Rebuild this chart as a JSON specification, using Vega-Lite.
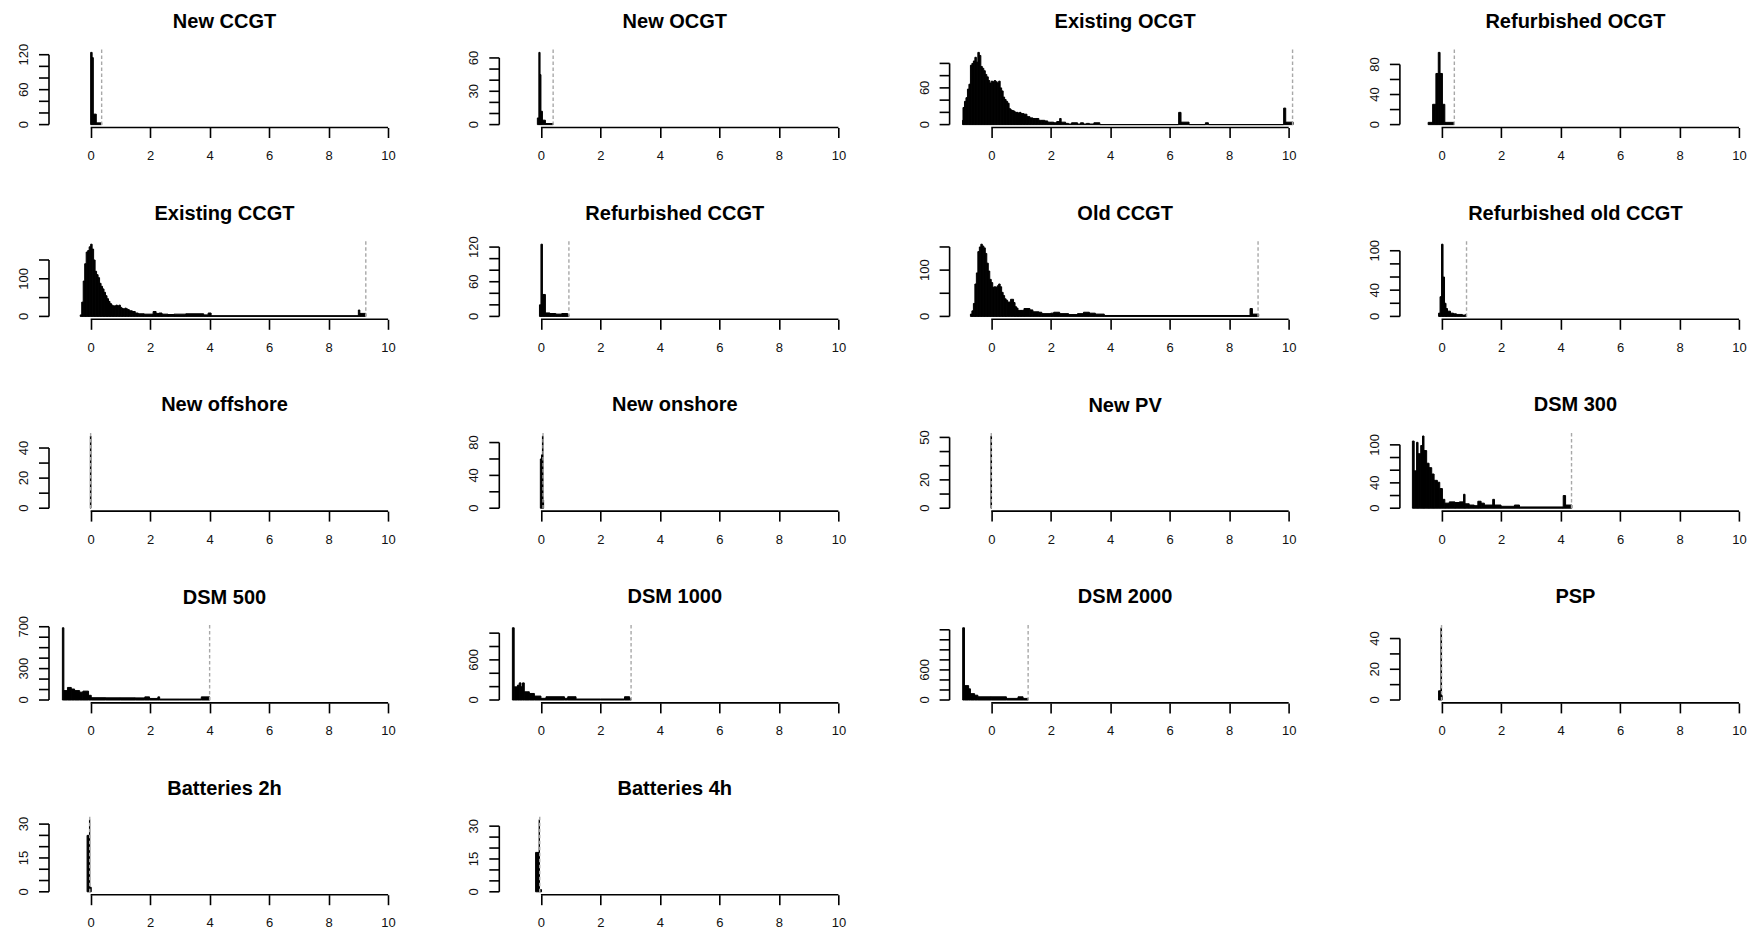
{
"$schema": "https://vega.github.io/schema/vega-lite/v6.json",
"background": "white",
"padding": {"left": 17, "top": 11.5, "right": 0, "bottom": 0},
"columns": 4,
"bounds": "flush",
"spacing": {"row": 113.8, "column": 99.3},
"config": {
 "view": {"stroke": null},
 "font": "Liberation Sans",
 "axis": {"domain": false, "grid": false, "tickSize": 10, "tickWidth": 1.6, "tickColor": "#000", "labelFont": "Liberation Sans", "labelFontSize": 13, "labelColor": "#111", "labelFlush": false},
 "axisX": {"labelPadding": 12, "labelAngle": 0},
 "title": {"font": "Liberation Sans", "fontSize": 20, "fontWeight": "bold", "color": "#000", "anchor": "middle", "frame": "group", "baseline": "alphabetic", "offset": 17.1},
 "rect": {"fill": "#000", "stroke": "#000", "strokeWidth": 1},
 "rule": {"stroke": "#000", "strokeWidth": 1.6},
 "text": {"font": "Liberation Sans", "fontSize": 13, "fill": "#111", "angle": 270, "align": "center", "baseline": "bottom"}
},
"datasets": {
 "yl": [
  {"p": "New CCGT", "t": 0}, {"p": "New CCGT", "t": 60}, {"p": "New CCGT", "t": 120},
  {"p": "New OCGT", "t": 0}, {"p": "New OCGT", "t": 30}, {"p": "New OCGT", "t": 60},
  {"p": "Existing OCGT", "t": 0}, {"p": "Existing OCGT", "t": 60},
  {"p": "Refurbished OCGT", "t": 0}, {"p": "Refurbished OCGT", "t": 40}, {"p": "Refurbished OCGT", "t": 80},
  {"p": "Existing CCGT", "t": 0}, {"p": "Existing CCGT", "t": 100},
  {"p": "Refurbished CCGT", "t": 0}, {"p": "Refurbished CCGT", "t": 60}, {"p": "Refurbished CCGT", "t": 120},
  {"p": "Old CCGT", "t": 0}, {"p": "Old CCGT", "t": 100},
  {"p": "Refurbished old CCGT", "t": 0}, {"p": "Refurbished old CCGT", "t": 40}, {"p": "Refurbished old CCGT", "t": 100},
  {"p": "New offshore", "t": 0}, {"p": "New offshore", "t": 20}, {"p": "New offshore", "t": 40},
  {"p": "New onshore", "t": 0}, {"p": "New onshore", "t": 40}, {"p": "New onshore", "t": 80},
  {"p": "New PV", "t": 0}, {"p": "New PV", "t": 20}, {"p": "New PV", "t": 50},
  {"p": "DSM 300", "t": 0}, {"p": "DSM 300", "t": 40}, {"p": "DSM 300", "t": 100},
  {"p": "DSM 500", "t": 0}, {"p": "DSM 500", "t": 300}, {"p": "DSM 500", "t": 700},
  {"p": "DSM 1000", "t": 0}, {"p": "DSM 1000", "t": 600},
  {"p": "DSM 2000", "t": 0}, {"p": "DSM 2000", "t": 600},
  {"p": "PSP", "t": 0}, {"p": "PSP", "t": 20}, {"p": "PSP", "t": 40},
  {"p": "Batteries 2h", "t": 0}, {"p": "Batteries 2h", "t": 15}, {"p": "Batteries 2h", "t": 30},
  {"p": "Batteries 4h", "t": 0}, {"p": "Batteries 4h", "t": 15}, {"p": "Batteries 4h", "t": 30}
 ],
 "yt": [
  {"p": "New CCGT", "t": 0}, {"p": "New CCGT", "t": 20}, {"p": "New CCGT", "t": 40}, {"p": "New CCGT", "t": 60}, {"p": "New CCGT", "t": 80}, {"p": "New CCGT", "t": 100}, {"p": "New CCGT", "t": 120},
  {"p": "New OCGT", "t": 0}, {"p": "New OCGT", "t": 10}, {"p": "New OCGT", "t": 20}, {"p": "New OCGT", "t": 30}, {"p": "New OCGT", "t": 40}, {"p": "New OCGT", "t": 50}, {"p": "New OCGT", "t": 60},
  {"p": "Existing OCGT", "t": 0}, {"p": "Existing OCGT", "t": 20}, {"p": "Existing OCGT", "t": 40}, {"p": "Existing OCGT", "t": 60}, {"p": "Existing OCGT", "t": 80}, {"p": "Existing OCGT", "t": 100},
  {"p": "Refurbished OCGT", "t": 0}, {"p": "Refurbished OCGT", "t": 20}, {"p": "Refurbished OCGT", "t": 40}, {"p": "Refurbished OCGT", "t": 60}, {"p": "Refurbished OCGT", "t": 80},
  {"p": "Existing CCGT", "t": 0}, {"p": "Existing CCGT", "t": 50}, {"p": "Existing CCGT", "t": 100}, {"p": "Existing CCGT", "t": 150},
  {"p": "Refurbished CCGT", "t": 0}, {"p": "Refurbished CCGT", "t": 20}, {"p": "Refurbished CCGT", "t": 40}, {"p": "Refurbished CCGT", "t": 60}, {"p": "Refurbished CCGT", "t": 80}, {"p": "Refurbished CCGT", "t": 100}, {"p": "Refurbished CCGT", "t": 120},
  {"p": "Old CCGT", "t": 0}, {"p": "Old CCGT", "t": 50}, {"p": "Old CCGT", "t": 100}, {"p": "Old CCGT", "t": 150},
  {"p": "Refurbished old CCGT", "t": 0}, {"p": "Refurbished old CCGT", "t": 20}, {"p": "Refurbished old CCGT", "t": 40}, {"p": "Refurbished old CCGT", "t": 60}, {"p": "Refurbished old CCGT", "t": 80}, {"p": "Refurbished old CCGT", "t": 100},
  {"p": "New offshore", "t": 0}, {"p": "New offshore", "t": 10}, {"p": "New offshore", "t": 20}, {"p": "New offshore", "t": 30}, {"p": "New offshore", "t": 40},
  {"p": "New onshore", "t": 0}, {"p": "New onshore", "t": 20}, {"p": "New onshore", "t": 40}, {"p": "New onshore", "t": 60}, {"p": "New onshore", "t": 80},
  {"p": "New PV", "t": 0}, {"p": "New PV", "t": 10}, {"p": "New PV", "t": 20}, {"p": "New PV", "t": 30}, {"p": "New PV", "t": 40}, {"p": "New PV", "t": 50},
  {"p": "DSM 300", "t": 0}, {"p": "DSM 300", "t": 20}, {"p": "DSM 300", "t": 40}, {"p": "DSM 300", "t": 60}, {"p": "DSM 300", "t": 80}, {"p": "DSM 300", "t": 100},
  {"p": "DSM 500", "t": 0}, {"p": "DSM 500", "t": 100}, {"p": "DSM 500", "t": 200}, {"p": "DSM 500", "t": 300}, {"p": "DSM 500", "t": 400}, {"p": "DSM 500", "t": 500}, {"p": "DSM 500", "t": 600}, {"p": "DSM 500", "t": 700},
  {"p": "DSM 1000", "t": 0}, {"p": "DSM 1000", "t": 200}, {"p": "DSM 1000", "t": 400}, {"p": "DSM 1000", "t": 600}, {"p": "DSM 1000", "t": 800}, {"p": "DSM 1000", "t": 1000},
  {"p": "DSM 2000", "t": 0}, {"p": "DSM 2000", "t": 200}, {"p": "DSM 2000", "t": 400}, {"p": "DSM 2000", "t": 600}, {"p": "DSM 2000", "t": 800}, {"p": "DSM 2000", "t": 1000}, {"p": "DSM 2000", "t": 1200}, {"p": "DSM 2000", "t": 1400},
  {"p": "PSP", "t": 0}, {"p": "PSP", "t": 10}, {"p": "PSP", "t": 20}, {"p": "PSP", "t": 30}, {"p": "PSP", "t": 40},
  {"p": "Batteries 2h", "t": 0}, {"p": "Batteries 2h", "t": 5}, {"p": "Batteries 2h", "t": 10}, {"p": "Batteries 2h", "t": 15}, {"p": "Batteries 2h", "t": 20}, {"p": "Batteries 2h", "t": 25}, {"p": "Batteries 2h", "t": 30},
  {"p": "Batteries 4h", "t": 0}, {"p": "Batteries 4h", "t": 5}, {"p": "Batteries 4h", "t": 10}, {"p": "Batteries 4h", "t": 15}, {"p": "Batteries 4h", "t": 20}, {"p": "Batteries 4h", "t": 25}, {"p": "Batteries 4h", "t": 30}
 ],
 "vline": [
  {"p": "New CCGT", "a": 0.37}, {"p": "New OCGT", "a": 0.41}, {"p": "Existing OCGT", "a": 10.13}, {"p": "Refurbished OCGT", "a": 0.43},
  {"p": "Existing CCGT", "a": 9.25}, {"p": "Refurbished CCGT", "a": 0.94}, {"p": "Old CCGT", "a": 8.97}, {"p": "Refurbished old CCGT", "a": 0.84},
  {"p": "New offshore", "a": 0.0}, {"p": "New onshore", "a": 0.07}, {"p": "New PV", "a": 0.0}, {"p": "DSM 300", "a": 4.37},
  {"p": "DSM 500", "a": 4.0}, {"p": "DSM 1000", "a": 3.03}, {"p": "DSM 2000", "a": 1.24}, {"p": "PSP", "a": 0.0},
  {"p": "Batteries 2h", "a": -0.03}, {"p": "Batteries 4h", "a": -0.04}
 ],
 "hist": [
  {"p": "New CCGT", "a": 0, "b": 0.05, "n": 124}, {"p": "New CCGT", "a": 0.05, "b": 0.09, "n": 115}, {"p": "New CCGT", "a": 0.09, "b": 0.19, "n": 18}, {"p": "New CCGT", "a": 0.19, "b": 0.37, "n": 3},

  {"p": "New OCGT", "a": -0.12, "b": -0.07, "n": 6}, {"p": "New OCGT", "a": -0.07, "b": -0.03, "n": 65}, {"p": "New OCGT", "a": -0.03, "b": 0, "n": 45}, {"p": "New OCGT", "a": 0, "b": 0.05, "n": 12}, {"p": "New OCGT", "a": 0.05, "b": 0.15, "n": 4}, {"p": "New OCGT", "a": 0.15, "b": 0.41, "n": 1},

  {"p": "Existing OCGT", "a": -0.96, "b": -0.95, "n": 7}, {"p": "Existing OCGT", "a": -0.95, "b": -0.9, "n": 28}, {"p": "Existing OCGT", "a": -0.9, "b": -0.85, "n": 38}, {"p": "Existing OCGT", "a": -0.85, "b": -0.8, "n": 44},
  {"p": "Existing OCGT", "a": -0.8, "b": -0.75, "n": 58}, {"p": "Existing OCGT", "a": -0.75, "b": -0.7, "n": 66}, {"p": "Existing OCGT", "a": -0.7, "b": -0.65, "n": 97}, {"p": "Existing OCGT", "a": -0.65, "b": -0.6, "n": 100},
  {"p": "Existing OCGT", "a": -0.6, "b": -0.55, "n": 104}, {"p": "Existing OCGT", "a": -0.55, "b": -0.5, "n": 110}, {"p": "Existing OCGT", "a": -0.5, "b": -0.45, "n": 102}, {"p": "Existing OCGT", "a": -0.45, "b": -0.4, "n": 118},
  {"p": "Existing OCGT", "a": -0.4, "b": -0.35, "n": 113}, {"p": "Existing OCGT", "a": -0.35, "b": -0.3, "n": 95}, {"p": "Existing OCGT", "a": -0.3, "b": -0.25, "n": 92}, {"p": "Existing OCGT", "a": -0.25, "b": -0.2, "n": 88},
  {"p": "Existing OCGT", "a": -0.2, "b": -0.15, "n": 82}, {"p": "Existing OCGT", "a": -0.15, "b": -0.1, "n": 78}, {"p": "Existing OCGT", "a": -0.1, "b": -0.05, "n": 72}, {"p": "Existing OCGT", "a": -0.05, "b": 0, "n": 68},
  {"p": "Existing OCGT", "a": 0, "b": 0.05, "n": 71}, {"p": "Existing OCGT", "a": 0.05, "b": 0.1, "n": 70}, {"p": "Existing OCGT", "a": 0.1, "b": 0.15, "n": 72}, {"p": "Existing OCGT", "a": 0.15, "b": 0.2, "n": 70},
  {"p": "Existing OCGT", "a": 0.2, "b": 0.25, "n": 68}, {"p": "Existing OCGT", "a": 0.25, "b": 0.3, "n": 71}, {"p": "Existing OCGT", "a": 0.3, "b": 0.35, "n": 60}, {"p": "Existing OCGT", "a": 0.35, "b": 0.4, "n": 55},
  {"p": "Existing OCGT", "a": 0.4, "b": 0.45, "n": 45}, {"p": "Existing OCGT", "a": 0.45, "b": 0.5, "n": 41}, {"p": "Existing OCGT", "a": 0.5, "b": 0.55, "n": 38}, {"p": "Existing OCGT", "a": 0.55, "b": 0.6, "n": 35},
  {"p": "Existing OCGT", "a": 0.6, "b": 0.65, "n": 26}, {"p": "Existing OCGT", "a": 0.65, "b": 0.7, "n": 24}, {"p": "Existing OCGT", "a": 0.7, "b": 0.75, "n": 23}, {"p": "Existing OCGT", "a": 0.75, "b": 0.8, "n": 22},
  {"p": "Existing OCGT", "a": 0.8, "b": 0.85, "n": 20}, {"p": "Existing OCGT", "a": 0.85, "b": 0.9, "n": 20}, {"p": "Existing OCGT", "a": 0.9, "b": 0.95, "n": 19}, {"p": "Existing OCGT", "a": 0.95, "b": 1.0, "n": 20},
  {"p": "Existing OCGT", "a": 1.0, "b": 1.1, "n": 18}, {"p": "Existing OCGT", "a": 1.1, "b": 1.2, "n": 17}, {"p": "Existing OCGT", "a": 1.2, "b": 1.3, "n": 13}, {"p": "Existing OCGT", "a": 1.3, "b": 1.4, "n": 11},
  {"p": "Existing OCGT", "a": 1.4, "b": 1.5, "n": 10}, {"p": "Existing OCGT", "a": 1.5, "b": 1.6, "n": 10}, {"p": "Existing OCGT", "a": 1.6, "b": 1.7, "n": 7}, {"p": "Existing OCGT", "a": 1.7, "b": 1.8, "n": 7},
  {"p": "Existing OCGT", "a": 1.8, "b": 1.9, "n": 6}, {"p": "Existing OCGT", "a": 1.9, "b": 2.0, "n": 4}, {"p": "Existing OCGT", "a": 2.0, "b": 2.1, "n": 4}, {"p": "Existing OCGT", "a": 2.1, "b": 2.2, "n": 3},
  {"p": "Existing OCGT", "a": 2.2, "b": 2.3, "n": 5}, {"p": "Existing OCGT", "a": 2.3, "b": 2.35, "n": 10}, {"p": "Existing OCGT", "a": 2.35, "b": 2.5, "n": 4}, {"p": "Existing OCGT", "a": 2.5, "b": 2.6, "n": 2},
  {"p": "Existing OCGT", "a": 2.6, "b": 2.7, "n": 1}, {"p": "Existing OCGT", "a": 2.7, "b": 2.9, "n": 3}, {"p": "Existing OCGT", "a": 2.9, "b": 3.0, "n": 1}, {"p": "Existing OCGT", "a": 3.0, "b": 3.1, "n": 3},
  {"p": "Existing OCGT", "a": 3.1, "b": 3.2, "n": 1}, {"p": "Existing OCGT", "a": 3.2, "b": 3.3, "n": 2}, {"p": "Existing OCGT", "a": 3.3, "b": 3.45, "n": 1}, {"p": "Existing OCGT", "a": 3.45, "b": 3.65, "n": 3},
  {"p": "Existing OCGT", "a": 3.65, "b": 6.3, "n": 0}, {"p": "Existing OCGT", "a": 6.3, "b": 6.38, "n": 20}, {"p": "Existing OCGT", "a": 6.38, "b": 6.65, "n": 4}, {"p": "Existing OCGT", "a": 6.65, "b": 7.2, "n": 0},
  {"p": "Existing OCGT", "a": 7.2, "b": 7.3, "n": 3}, {"p": "Existing OCGT", "a": 7.3, "b": 9.83, "n": 0}, {"p": "Existing OCGT", "a": 9.83, "b": 9.9, "n": 27}, {"p": "Existing OCGT", "a": 9.9, "b": 10.15, "n": 4},

  {"p": "Refurbished OCGT", "a": -0.45, "b": -0.3, "n": 3}, {"p": "Refurbished OCGT", "a": -0.3, "b": -0.19, "n": 27}, {"p": "Refurbished OCGT", "a": -0.19, "b": -0.11, "n": 68}, {"p": "Refurbished OCGT", "a": -0.11, "b": -0.05, "n": 96},
  {"p": "Refurbished OCGT", "a": -0.05, "b": 0.03, "n": 68}, {"p": "Refurbished OCGT", "a": 0.03, "b": 0.11, "n": 27}, {"p": "Refurbished OCGT", "a": 0.11, "b": 0.43, "n": 3},

  {"p": "Existing CCGT", "a": -0.35, "b": -0.3, "n": 4}, {"p": "Existing CCGT", "a": -0.3, "b": -0.25, "n": 38}, {"p": "Existing CCGT", "a": -0.25, "b": -0.2, "n": 94}, {"p": "Existing CCGT", "a": -0.2, "b": -0.15, "n": 140},
  {"p": "Existing CCGT", "a": -0.15, "b": -0.1, "n": 171}, {"p": "Existing CCGT", "a": -0.1, "b": -0.05, "n": 175}, {"p": "Existing CCGT", "a": -0.05, "b": 0, "n": 185}, {"p": "Existing CCGT", "a": 0, "b": 0.05, "n": 192},
  {"p": "Existing CCGT", "a": 0.05, "b": 0.1, "n": 179}, {"p": "Existing CCGT", "a": 0.1, "b": 0.15, "n": 150}, {"p": "Existing CCGT", "a": 0.15, "b": 0.2, "n": 120}, {"p": "Existing CCGT", "a": 0.2, "b": 0.25, "n": 111},
  {"p": "Existing CCGT", "a": 0.25, "b": 0.3, "n": 103}, {"p": "Existing CCGT", "a": 0.3, "b": 0.35, "n": 88}, {"p": "Existing CCGT", "a": 0.35, "b": 0.4, "n": 80}, {"p": "Existing CCGT", "a": 0.4, "b": 0.45, "n": 73},
  {"p": "Existing CCGT", "a": 0.45, "b": 0.5, "n": 64}, {"p": "Existing CCGT", "a": 0.5, "b": 0.55, "n": 55}, {"p": "Existing CCGT", "a": 0.55, "b": 0.6, "n": 47}, {"p": "Existing CCGT", "a": 0.6, "b": 0.65, "n": 40},
  {"p": "Existing CCGT", "a": 0.65, "b": 0.7, "n": 34}, {"p": "Existing CCGT", "a": 0.7, "b": 0.75, "n": 30}, {"p": "Existing CCGT", "a": 0.75, "b": 0.85, "n": 28}, {"p": "Existing CCGT", "a": 0.85, "b": 0.9, "n": 30},
  {"p": "Existing CCGT", "a": 0.9, "b": 0.95, "n": 28}, {"p": "Existing CCGT", "a": 0.95, "b": 1.0, "n": 30}, {"p": "Existing CCGT", "a": 1.0, "b": 1.05, "n": 24}, {"p": "Existing CCGT", "a": 1.05, "b": 1.1, "n": 21},
  {"p": "Existing CCGT", "a": 1.1, "b": 1.15, "n": 20}, {"p": "Existing CCGT", "a": 1.15, "b": 1.2, "n": 22}, {"p": "Existing CCGT", "a": 1.2, "b": 1.25, "n": 20}, {"p": "Existing CCGT", "a": 1.25, "b": 1.3, "n": 18},
  {"p": "Existing CCGT", "a": 1.3, "b": 1.4, "n": 15}, {"p": "Existing CCGT", "a": 1.4, "b": 1.5, "n": 13}, {"p": "Existing CCGT", "a": 1.5, "b": 1.6, "n": 9}, {"p": "Existing CCGT", "a": 1.6, "b": 1.8, "n": 7},
  {"p": "Existing CCGT", "a": 1.8, "b": 2.1, "n": 6}, {"p": "Existing CCGT", "a": 2.1, "b": 2.2, "n": 13}, {"p": "Existing CCGT", "a": 2.2, "b": 2.3, "n": 8}, {"p": "Existing CCGT", "a": 2.3, "b": 2.4, "n": 9},
  {"p": "Existing CCGT", "a": 2.4, "b": 2.6, "n": 6}, {"p": "Existing CCGT", "a": 2.6, "b": 2.8, "n": 5}, {"p": "Existing CCGT", "a": 2.8, "b": 3.2, "n": 6}, {"p": "Existing CCGT", "a": 3.2, "b": 3.8, "n": 7},
  {"p": "Existing CCGT", "a": 3.8, "b": 3.95, "n": 4}, {"p": "Existing CCGT", "a": 3.95, "b": 4.05, "n": 9}, {"p": "Existing CCGT", "a": 4.05, "b": 9.0, "n": 2}, {"p": "Existing CCGT", "a": 9.0, "b": 9.05, "n": 17},
  {"p": "Existing CCGT", "a": 9.05, "b": 9.25, "n": 8},

  {"p": "Refurbished CCGT", "a": -0.05, "b": 0, "n": 20}, {"p": "Refurbished CCGT", "a": 0, "b": 0.05, "n": 125}, {"p": "Refurbished CCGT", "a": 0.05, "b": 0.15, "n": 38}, {"p": "Refurbished CCGT", "a": 0.15, "b": 0.3, "n": 6},
  {"p": "Refurbished CCGT", "a": 0.3, "b": 0.5, "n": 5}, {"p": "Refurbished CCGT", "a": 0.5, "b": 0.7, "n": 4}, {"p": "Refurbished CCGT", "a": 0.7, "b": 0.9, "n": 5}, {"p": "Refurbished CCGT", "a": 0.9, "b": 0.94, "n": 3},

  {"p": "Old CCGT", "a": -0.7, "b": -0.65, "n": 5}, {"p": "Old CCGT", "a": -0.65, "b": -0.6, "n": 12}, {"p": "Old CCGT", "a": -0.6, "b": -0.55, "n": 28}, {"p": "Old CCGT", "a": -0.55, "b": -0.5, "n": 70},
  {"p": "Old CCGT", "a": -0.5, "b": -0.45, "n": 94}, {"p": "Old CCGT", "a": -0.45, "b": -0.4, "n": 140}, {"p": "Old CCGT", "a": -0.4, "b": -0.35, "n": 150}, {"p": "Old CCGT", "a": -0.35, "b": -0.3, "n": 156},
  {"p": "Old CCGT", "a": -0.3, "b": -0.25, "n": 152}, {"p": "Old CCGT", "a": -0.25, "b": -0.2, "n": 148}, {"p": "Old CCGT", "a": -0.2, "b": -0.15, "n": 136}, {"p": "Old CCGT", "a": -0.15, "b": -0.1, "n": 115},
  {"p": "Old CCGT", "a": -0.1, "b": -0.05, "n": 98}, {"p": "Old CCGT", "a": -0.05, "b": 0, "n": 80}, {"p": "Old CCGT", "a": 0, "b": 0.05, "n": 73}, {"p": "Old CCGT", "a": 0.05, "b": 0.1, "n": 63},
  {"p": "Old CCGT", "a": 0.1, "b": 0.15, "n": 64}, {"p": "Old CCGT", "a": 0.15, "b": 0.2, "n": 63}, {"p": "Old CCGT", "a": 0.2, "b": 0.25, "n": 66}, {"p": "Old CCGT", "a": 0.25, "b": 0.3, "n": 70},
  {"p": "Old CCGT", "a": 0.3, "b": 0.35, "n": 64}, {"p": "Old CCGT", "a": 0.35, "b": 0.4, "n": 52}, {"p": "Old CCGT", "a": 0.4, "b": 0.45, "n": 45}, {"p": "Old CCGT", "a": 0.45, "b": 0.5, "n": 38},
  {"p": "Old CCGT", "a": 0.5, "b": 0.55, "n": 35}, {"p": "Old CCGT", "a": 0.55, "b": 0.65, "n": 31}, {"p": "Old CCGT", "a": 0.65, "b": 0.75, "n": 37}, {"p": "Old CCGT", "a": 0.75, "b": 0.8, "n": 30},
  {"p": "Old CCGT", "a": 0.8, "b": 0.85, "n": 21}, {"p": "Old CCGT", "a": 0.85, "b": 0.9, "n": 18}, {"p": "Old CCGT", "a": 0.9, "b": 1.0, "n": 13}, {"p": "Old CCGT", "a": 1.0, "b": 1.1, "n": 13},
  {"p": "Old CCGT", "a": 1.1, "b": 1.3, "n": 17}, {"p": "Old CCGT", "a": 1.3, "b": 1.4, "n": 14}, {"p": "Old CCGT", "a": 1.4, "b": 1.6, "n": 10}, {"p": "Old CCGT", "a": 1.6, "b": 1.7, "n": 9},
  {"p": "Old CCGT", "a": 1.7, "b": 2.0, "n": 6}, {"p": "Old CCGT", "a": 2.0, "b": 2.1, "n": 7}, {"p": "Old CCGT", "a": 2.1, "b": 2.3, "n": 9}, {"p": "Old CCGT", "a": 2.3, "b": 2.6, "n": 6},
  {"p": "Old CCGT", "a": 2.6, "b": 2.9, "n": 4}, {"p": "Old CCGT", "a": 2.9, "b": 3.1, "n": 6}, {"p": "Old CCGT", "a": 3.1, "b": 3.3, "n": 9}, {"p": "Old CCGT", "a": 3.3, "b": 3.5, "n": 7},
  {"p": "Old CCGT", "a": 3.5, "b": 3.8, "n": 5}, {"p": "Old CCGT", "a": 3.8, "b": 8.7, "n": 2}, {"p": "Old CCGT", "a": 8.7, "b": 8.78, "n": 17}, {"p": "Old CCGT", "a": 8.78, "b": 8.99, "n": 5},

  {"p": "Refurbished old CCGT", "a": -0.1, "b": -0.05, "n": 5}, {"p": "Refurbished old CCGT", "a": -0.05, "b": 0, "n": 30}, {"p": "Refurbished old CCGT", "a": 0, "b": 0.05, "n": 110}, {"p": "Refurbished old CCGT", "a": 0.05, "b": 0.1, "n": 60},
  {"p": "Refurbished old CCGT", "a": 0.1, "b": 0.15, "n": 20}, {"p": "Refurbished old CCGT", "a": 0.15, "b": 0.2, "n": 12}, {"p": "Refurbished old CCGT", "a": 0.2, "b": 0.3, "n": 8}, {"p": "Refurbished old CCGT", "a": 0.3, "b": 0.4, "n": 5},
  {"p": "Refurbished old CCGT", "a": 0.4, "b": 0.5, "n": 4}, {"p": "Refurbished old CCGT", "a": 0.5, "b": 0.7, "n": 3}, {"p": "Refurbished old CCGT", "a": 0.7, "b": 0.8, "n": 2}, {"p": "Refurbished old CCGT", "a": 0.8, "b": 0.84, "n": 3},

  {"p": "New offshore", "a": -0.01, "b": 0.01, "n": 48},

  {"p": "New onshore", "a": -0.02, "b": 0.02, "n": 60}, {"p": "New onshore", "a": 0.02, "b": 0.05, "n": 65}, {"p": "New onshore", "a": 0.05, "b": 0.07, "n": 88}, {"p": "New onshore", "a": 0.07, "b": 0.09, "n": 10},

  {"p": "New PV", "a": -0.01, "b": 0.01, "n": 51},

  {"p": "DSM 300", "a": -0.98, "b": -0.92, "n": 106}, {"p": "DSM 300", "a": -0.92, "b": -0.84, "n": 59}, {"p": "DSM 300", "a": -0.84, "b": -0.79, "n": 104}, {"p": "DSM 300", "a": -0.79, "b": -0.7, "n": 86},
  {"p": "DSM 300", "a": -0.7, "b": -0.64, "n": 99}, {"p": "DSM 300", "a": -0.64, "b": -0.59, "n": 114}, {"p": "DSM 300", "a": -0.59, "b": -0.5, "n": 91}, {"p": "DSM 300", "a": -0.5, "b": -0.42, "n": 71},
  {"p": "DSM 300", "a": -0.42, "b": -0.33, "n": 64}, {"p": "DSM 300", "a": -0.33, "b": -0.25, "n": 54}, {"p": "DSM 300", "a": -0.25, "b": -0.14, "n": 44}, {"p": "DSM 300", "a": -0.14, "b": -0.06, "n": 41},
  {"p": "DSM 300", "a": -0.06, "b": 0.03, "n": 31}, {"p": "DSM 300", "a": 0.03, "b": 0.11, "n": 14}, {"p": "DSM 300", "a": 0.11, "b": 0.26, "n": 8}, {"p": "DSM 300", "a": 0.26, "b": 0.45, "n": 10},
  {"p": "DSM 300", "a": 0.45, "b": 0.6, "n": 9}, {"p": "DSM 300", "a": 0.6, "b": 0.74, "n": 10}, {"p": "DSM 300", "a": 0.74, "b": 0.79, "n": 22}, {"p": "DSM 300", "a": 0.79, "b": 0.93, "n": 7},
  {"p": "DSM 300", "a": 0.93, "b": 1.1, "n": 5}, {"p": "DSM 300", "a": 1.1, "b": 1.22, "n": 4}, {"p": "DSM 300", "a": 1.22, "b": 1.33, "n": 11}, {"p": "DSM 300", "a": 1.33, "b": 1.44, "n": 8},
  {"p": "DSM 300", "a": 1.44, "b": 1.72, "n": 5}, {"p": "DSM 300", "a": 1.72, "b": 1.78, "n": 14}, {"p": "DSM 300", "a": 1.78, "b": 2.0, "n": 5}, {"p": "DSM 300", "a": 2.0, "b": 2.45, "n": 3},
  {"p": "DSM 300", "a": 2.45, "b": 2.62, "n": 5}, {"p": "DSM 300", "a": 2.62, "b": 4.09, "n": 2}, {"p": "DSM 300", "a": 4.09, "b": 4.17, "n": 20}, {"p": "DSM 300", "a": 4.17, "b": 4.38, "n": 5},

  {"p": "DSM 500", "a": -0.95, "b": -0.9, "n": 690}, {"p": "DSM 500", "a": -0.9, "b": -0.78, "n": 90}, {"p": "DSM 500", "a": -0.78, "b": -0.65, "n": 120}, {"p": "DSM 500", "a": -0.65, "b": -0.54, "n": 105},
  {"p": "DSM 500", "a": -0.54, "b": -0.37, "n": 90}, {"p": "DSM 500", "a": -0.37, "b": -0.26, "n": 75}, {"p": "DSM 500", "a": -0.26, "b": -0.07, "n": 85}, {"p": "DSM 500", "a": -0.07, "b": 0.02, "n": 45},
  {"p": "DSM 500", "a": 0.02, "b": 0.5, "n": 22}, {"p": "DSM 500", "a": 0.5, "b": 1.0, "n": 21}, {"p": "DSM 500", "a": 1.0, "b": 1.5, "n": 21}, {"p": "DSM 500", "a": 1.5, "b": 1.82, "n": 20},
  {"p": "DSM 500", "a": 1.82, "b": 1.98, "n": 30}, {"p": "DSM 500", "a": 1.98, "b": 2.26, "n": 15}, {"p": "DSM 500", "a": 2.26, "b": 2.32, "n": 30}, {"p": "DSM 500", "a": 2.32, "b": 3.0, "n": 9},
  {"p": "DSM 500", "a": 3.0, "b": 3.72, "n": 9}, {"p": "DSM 500", "a": 3.72, "b": 4.0, "n": 30},

  {"p": "DSM 1000", "a": -0.96, "b": -0.9, "n": 1080}, {"p": "DSM 1000", "a": -0.9, "b": -0.79, "n": 197}, {"p": "DSM 1000", "a": -0.79, "b": -0.73, "n": 222}, {"p": "DSM 1000", "a": -0.73, "b": -0.67, "n": 256},
  {"p": "DSM 1000", "a": -0.67, "b": -0.62, "n": 197}, {"p": "DSM 1000", "a": -0.62, "b": -0.56, "n": 256}, {"p": "DSM 1000", "a": -0.56, "b": -0.39, "n": 123}, {"p": "DSM 1000", "a": -0.39, "b": -0.22, "n": 98},
  {"p": "DSM 1000", "a": -0.22, "b": 0, "n": 59}, {"p": "DSM 1000", "a": 0, "b": 0.17, "n": 25}, {"p": "DSM 1000", "a": 0.17, "b": 0.79, "n": 49}, {"p": "DSM 1000", "a": 0.79, "b": 0.9, "n": 25},
  {"p": "DSM 1000", "a": 0.9, "b": 1.18, "n": 49}, {"p": "DSM 1000", "a": 1.18, "b": 2.0, "n": 15}, {"p": "DSM 1000", "a": 2.0, "b": 2.81, "n": 15}, {"p": "DSM 1000", "a": 2.81, "b": 2.98, "n": 49},
  {"p": "DSM 1000", "a": 2.98, "b": 3.03, "n": 20},

  {"p": "DSM 2000", "a": -0.96, "b": -0.9, "n": 1440}, {"p": "DSM 2000", "a": -0.9, "b": -0.76, "n": 287}, {"p": "DSM 2000", "a": -0.76, "b": -0.7, "n": 223}, {"p": "DSM 2000", "a": -0.7, "b": -0.56, "n": 127},
  {"p": "DSM 2000", "a": -0.56, "b": -0.45, "n": 96}, {"p": "DSM 2000", "a": -0.45, "b": 0.0, "n": 64}, {"p": "DSM 2000", "a": 0.0, "b": 0.51, "n": 64}, {"p": "DSM 2000", "a": 0.51, "b": 0.9, "n": 32},
  {"p": "DSM 2000", "a": 0.9, "b": 1.07, "n": 64}, {"p": "DSM 2000", "a": 1.07, "b": 1.24, "n": 32},

  {"p": "PSP", "a": -0.1, "b": -0.02, "n": 6}, {"p": "PSP", "a": -0.02, "b": 0, "n": 47}, {"p": "PSP", "a": 0, "b": 0.02, "n": 3},

  {"p": "Batteries 2h", "a": -0.12, "b": -0.04, "n": 25}, {"p": "Batteries 2h", "a": -0.04, "b": -0.03, "n": 32}, {"p": "Batteries 2h", "a": -0.03, "b": 0.02, "n": 2},

  {"p": "Batteries 4h", "a": -0.18, "b": -0.06, "n": 18}, {"p": "Batteries 4h", "a": -0.06, "b": -0.05, "n": 33}, {"p": "Batteries 4h", "a": -0.05, "b": 0.02, "n": 1}
 ]
},
"concat": [
 {"title": {"text": "New CCGT", "offset": 11.5}, "width": 351, "height": 78, "layer": [
  {"data": {"name": "hist"}, "transform": [{"filter": "datum.p === 'New CCGT'"}], "mark": "rect", "encoding": {
   "x": {"field": "a", "type": "quantitative", "scale": {"domain": [-1.4, 10.4], "nice": false, "zero": false}, "axis": {"title": null, "values": [0, 2, 4, 6, 8, 10]}},
   "x2": {"field": "b"},
   "y": {"field": "n", "type": "quantitative", "scale": {"domain": [-4.96, 128.96], "nice": false, "zero": false}, "axis": null},
   "y2": {"datum": 0}}},
  {"data": {"name": "vline"}, "transform": [{"filter": "datum.p === 'New CCGT'"}], "mark": {"type": "rule", "stroke": "#a8a8a8", "strokeDash": [3.5, 2.5], "strokeWidth": 1.4}, "encoding": {"x": {"field": "a", "type": "quantitative"}}},
  {"data": {"name": "yt"}, "transform": [{"filter": "datum.p === 'New CCGT'"}], "mark": {"type": "rule", "xOffset": -10}, "encoding": {"x": {"datum": -1.4}, "x2": {"datum": -1.4}, "y": {"field": "t", "type": "quantitative"}}},
  {"data": {"name": "yl"}, "transform": [{"filter": "datum.p === 'New CCGT'"}], "mark": {"type": "text", "xOffset": -18}, "encoding": {"x": {"datum": -1.4}, "y": {"field": "t", "type": "quantitative"}, "text": {"field": "t", "type": "quantitative"}}},
  {"data": {"values": [{}]}, "mark": "rule", "encoding": {"x": {"datum": 0}, "x2": {"datum": 10}, "y": {"datum": -4.96}}},
  {"data": {"values": [{}]}, "mark": "rule", "encoding": {"x": {"datum": -1.4}, "y": {"datum": 0}, "y2": {"datum": 120}}}
 ]},
 {"title": {"text": "New OCGT"}, "width": 351, "height": 78, "layer": [
  {"data": {"name": "hist"}, "transform": [{"filter": "datum.p === 'New OCGT'"}], "mark": "rect", "encoding": {
   "x": {"field": "a", "type": "quantitative", "scale": {"domain": [-1.4, 10.4], "nice": false, "zero": false}, "axis": {"title": null, "values": [0, 2, 4, 6, 8, 10]}},
   "x2": {"field": "b"},
   "y": {"field": "n", "type": "quantitative", "scale": {"domain": [-2.6, 67.6], "nice": false, "zero": false}, "axis": null},
   "y2": {"datum": 0}}},
  {"data": {"name": "vline"}, "transform": [{"filter": "datum.p === 'New OCGT'"}], "mark": {"type": "rule", "stroke": "#a8a8a8", "strokeDash": [3.5, 2.5], "strokeWidth": 1.4}, "encoding": {"x": {"field": "a", "type": "quantitative"}}},
  {"data": {"name": "yt"}, "transform": [{"filter": "datum.p === 'New OCGT'"}], "mark": {"type": "rule", "xOffset": -10}, "encoding": {"x": {"datum": -1.4}, "x2": {"datum": -1.4}, "y": {"field": "t", "type": "quantitative"}}},
  {"data": {"name": "yl"}, "transform": [{"filter": "datum.p === 'New OCGT'"}], "mark": {"type": "text", "xOffset": -18}, "encoding": {"x": {"datum": -1.4}, "y": {"field": "t", "type": "quantitative"}, "text": {"field": "t", "type": "quantitative"}}},
  {"data": {"values": [{}]}, "mark": "rule", "encoding": {"x": {"datum": 0}, "x2": {"datum": 10}, "y": {"datum": -2.6}}},
  {"data": {"values": [{}]}, "mark": "rule", "encoding": {"x": {"datum": -1.4}, "y": {"datum": 0}, "y2": {"datum": 60}}}
 ]},
 {"title": {"text": "Existing OCGT"}, "width": 351, "height": 78, "layer": [
  {"data": {"name": "hist"}, "transform": [{"filter": "datum.p === 'Existing OCGT'"}], "mark": "rect", "encoding": {
   "x": {"field": "a", "type": "quantitative", "scale": {"domain": [-1.4, 10.4], "nice": false, "zero": false}, "axis": {"title": null, "values": [0, 2, 4, 6, 8, 10]}},
   "x2": {"field": "b"},
   "y": {"field": "n", "type": "quantitative", "scale": {"domain": [-4.72, 122.72], "nice": false, "zero": false}, "axis": null},
   "y2": {"datum": 0}}},
  {"data": {"name": "vline"}, "transform": [{"filter": "datum.p === 'Existing OCGT'"}], "mark": {"type": "rule", "stroke": "#a8a8a8", "strokeDash": [3.5, 2.5], "strokeWidth": 1.4}, "encoding": {"x": {"field": "a", "type": "quantitative"}}},
  {"data": {"name": "yt"}, "transform": [{"filter": "datum.p === 'Existing OCGT'"}], "mark": {"type": "rule", "xOffset": -10}, "encoding": {"x": {"datum": -1.4}, "x2": {"datum": -1.4}, "y": {"field": "t", "type": "quantitative"}}},
  {"data": {"name": "yl"}, "transform": [{"filter": "datum.p === 'Existing OCGT'"}], "mark": {"type": "text", "xOffset": -18}, "encoding": {"x": {"datum": -1.4}, "y": {"field": "t", "type": "quantitative"}, "text": {"field": "t", "type": "quantitative"}}},
  {"data": {"values": [{}]}, "mark": "rule", "encoding": {"x": {"datum": 0}, "x2": {"datum": 10}, "y": {"datum": -4.72}}},
  {"data": {"values": [{}]}, "mark": "rule", "encoding": {"x": {"datum": -1.4}, "y": {"datum": 0}, "y2": {"datum": 100}}}
 ]},
 {"title": {"text": "Refurbished OCGT"}, "width": 351, "height": 78, "layer": [
  {"data": {"name": "hist"}, "transform": [{"filter": "datum.p === 'Refurbished OCGT'"}], "mark": "rect", "encoding": {
   "x": {"field": "a", "type": "quantitative", "scale": {"domain": [-1.4, 10.4], "nice": false, "zero": false}, "axis": {"title": null, "values": [0, 2, 4, 6, 8, 10]}},
   "x2": {"field": "b"},
   "y": {"field": "n", "type": "quantitative", "scale": {"domain": [-3.84, 99.84], "nice": false, "zero": false}, "axis": null},
   "y2": {"datum": 0}}},
  {"data": {"name": "vline"}, "transform": [{"filter": "datum.p === 'Refurbished OCGT'"}], "mark": {"type": "rule", "stroke": "#a8a8a8", "strokeDash": [3.5, 2.5], "strokeWidth": 1.4}, "encoding": {"x": {"field": "a", "type": "quantitative"}}},
  {"data": {"name": "yt"}, "transform": [{"filter": "datum.p === 'Refurbished OCGT'"}], "mark": {"type": "rule", "xOffset": -10}, "encoding": {"x": {"datum": -1.4}, "x2": {"datum": -1.4}, "y": {"field": "t", "type": "quantitative"}}},
  {"data": {"name": "yl"}, "transform": [{"filter": "datum.p === 'Refurbished OCGT'"}], "mark": {"type": "text", "xOffset": -18}, "encoding": {"x": {"datum": -1.4}, "y": {"field": "t", "type": "quantitative"}, "text": {"field": "t", "type": "quantitative"}}},
  {"data": {"values": [{}]}, "mark": "rule", "encoding": {"x": {"datum": 0}, "x2": {"datum": 10}, "y": {"datum": -3.84}}},
  {"data": {"values": [{}]}, "mark": "rule", "encoding": {"x": {"datum": -1.4}, "y": {"datum": 0}, "y2": {"datum": 80}}}
 ]},
 {"title": {"text": "Existing CCGT"}, "width": 351, "height": 78, "layer": [
  {"data": {"name": "hist"}, "transform": [{"filter": "datum.p === 'Existing CCGT'"}], "mark": "rect", "encoding": {
   "x": {"field": "a", "type": "quantitative", "scale": {"domain": [-1.4, 10.4], "nice": false, "zero": false}, "axis": {"title": null, "values": [0, 2, 4, 6, 8, 10]}},
   "x2": {"field": "b"},
   "y": {"field": "n", "type": "quantitative", "scale": {"domain": [-7.68, 199.68], "nice": false, "zero": false}, "axis": null},
   "y2": {"datum": 0}}},
  {"data": {"name": "vline"}, "transform": [{"filter": "datum.p === 'Existing CCGT'"}], "mark": {"type": "rule", "stroke": "#a8a8a8", "strokeDash": [3.5, 2.5], "strokeWidth": 1.4}, "encoding": {"x": {"field": "a", "type": "quantitative"}}},
  {"data": {"name": "yt"}, "transform": [{"filter": "datum.p === 'Existing CCGT'"}], "mark": {"type": "rule", "xOffset": -10}, "encoding": {"x": {"datum": -1.4}, "x2": {"datum": -1.4}, "y": {"field": "t", "type": "quantitative"}}},
  {"data": {"name": "yl"}, "transform": [{"filter": "datum.p === 'Existing CCGT'"}], "mark": {"type": "text", "xOffset": -18}, "encoding": {"x": {"datum": -1.4}, "y": {"field": "t", "type": "quantitative"}, "text": {"field": "t", "type": "quantitative"}}},
  {"data": {"values": [{}]}, "mark": "rule", "encoding": {"x": {"datum": 0}, "x2": {"datum": 10}, "y": {"datum": -7.68}}},
  {"data": {"values": [{}]}, "mark": "rule", "encoding": {"x": {"datum": -1.4}, "y": {"datum": 0}, "y2": {"datum": 150}}}
 ]},
 {"title": {"text": "Refurbished CCGT", "offset": 12.0}, "width": 351, "height": 78, "layer": [
  {"data": {"name": "hist"}, "transform": [{"filter": "datum.p === 'Refurbished CCGT'"}], "mark": "rect", "encoding": {
   "x": {"field": "a", "type": "quantitative", "scale": {"domain": [-1.4, 10.4], "nice": false, "zero": false}, "axis": {"title": null, "values": [0, 2, 4, 6, 8, 10]}},
   "x2": {"field": "b"},
   "y": {"field": "n", "type": "quantitative", "scale": {"domain": [-5, 130], "nice": false, "zero": false}, "axis": null},
   "y2": {"datum": 0}}},
  {"data": {"name": "vline"}, "transform": [{"filter": "datum.p === 'Refurbished CCGT'"}], "mark": {"type": "rule", "stroke": "#a8a8a8", "strokeDash": [3.5, 2.5], "strokeWidth": 1.4}, "encoding": {"x": {"field": "a", "type": "quantitative"}}},
  {"data": {"name": "yt"}, "transform": [{"filter": "datum.p === 'Refurbished CCGT'"}], "mark": {"type": "rule", "xOffset": -10}, "encoding": {"x": {"datum": -1.4}, "x2": {"datum": -1.4}, "y": {"field": "t", "type": "quantitative"}}},
  {"data": {"name": "yl"}, "transform": [{"filter": "datum.p === 'Refurbished CCGT'"}], "mark": {"type": "text", "xOffset": -18}, "encoding": {"x": {"datum": -1.4}, "y": {"field": "t", "type": "quantitative"}, "text": {"field": "t", "type": "quantitative"}}},
  {"data": {"values": [{}]}, "mark": "rule", "encoding": {"x": {"datum": 0}, "x2": {"datum": 10}, "y": {"datum": -5}}},
  {"data": {"values": [{}]}, "mark": "rule", "encoding": {"x": {"datum": -1.4}, "y": {"datum": 0}, "y2": {"datum": 120}}}
 ]},
 {"title": {"text": "Old CCGT"}, "width": 351, "height": 78, "layer": [
  {"data": {"name": "hist"}, "transform": [{"filter": "datum.p === 'Old CCGT'"}], "mark": "rect", "encoding": {
   "x": {"field": "a", "type": "quantitative", "scale": {"domain": [-1.4, 10.4], "nice": false, "zero": false}, "axis": {"title": null, "values": [0, 2, 4, 6, 8, 10]}},
   "x2": {"field": "b"},
   "y": {"field": "n", "type": "quantitative", "scale": {"domain": [-6.24, 162.24], "nice": false, "zero": false}, "axis": null},
   "y2": {"datum": 0}}},
  {"data": {"name": "vline"}, "transform": [{"filter": "datum.p === 'Old CCGT'"}], "mark": {"type": "rule", "stroke": "#a8a8a8", "strokeDash": [3.5, 2.5], "strokeWidth": 1.4}, "encoding": {"x": {"field": "a", "type": "quantitative"}}},
  {"data": {"name": "yt"}, "transform": [{"filter": "datum.p === 'Old CCGT'"}], "mark": {"type": "rule", "xOffset": -10}, "encoding": {"x": {"datum": -1.4}, "x2": {"datum": -1.4}, "y": {"field": "t", "type": "quantitative"}}},
  {"data": {"name": "yl"}, "transform": [{"filter": "datum.p === 'Old CCGT'"}], "mark": {"type": "text", "xOffset": -18}, "encoding": {"x": {"datum": -1.4}, "y": {"field": "t", "type": "quantitative"}, "text": {"field": "t", "type": "quantitative"}}},
  {"data": {"values": [{}]}, "mark": "rule", "encoding": {"x": {"datum": 0}, "x2": {"datum": 10}, "y": {"datum": -6.24}}},
  {"data": {"values": [{}]}, "mark": "rule", "encoding": {"x": {"datum": -1.4}, "y": {"datum": 0}, "y2": {"datum": 150}}}
 ]},
 {"title": {"text": "Refurbished old CCGT", "offset": 15.7}, "width": 351, "height": 78, "layer": [
  {"data": {"name": "hist"}, "transform": [{"filter": "datum.p === 'Refurbished old CCGT'"}], "mark": "rect", "encoding": {
   "x": {"field": "a", "type": "quantitative", "scale": {"domain": [-1.4, 10.4], "nice": false, "zero": false}, "axis": {"title": null, "values": [0, 2, 4, 6, 8, 10]}},
   "x2": {"field": "b"},
   "y": {"field": "n", "type": "quantitative", "scale": {"domain": [-4.4, 114.4], "nice": false, "zero": false}, "axis": null},
   "y2": {"datum": 0}}},
  {"data": {"name": "vline"}, "transform": [{"filter": "datum.p === 'Refurbished old CCGT'"}], "mark": {"type": "rule", "stroke": "#a8a8a8", "strokeDash": [3.5, 2.5], "strokeWidth": 1.4}, "encoding": {"x": {"field": "a", "type": "quantitative"}}},
  {"data": {"name": "yt"}, "transform": [{"filter": "datum.p === 'Refurbished old CCGT'"}], "mark": {"type": "rule", "xOffset": -10}, "encoding": {"x": {"datum": -1.4}, "x2": {"datum": -1.4}, "y": {"field": "t", "type": "quantitative"}}},
  {"data": {"name": "yl"}, "transform": [{"filter": "datum.p === 'Refurbished old CCGT'"}], "mark": {"type": "text", "xOffset": -18}, "encoding": {"x": {"datum": -1.4}, "y": {"field": "t", "type": "quantitative"}, "text": {"field": "t", "type": "quantitative"}}},
  {"data": {"values": [{}]}, "mark": "rule", "encoding": {"x": {"datum": 0}, "x2": {"datum": 10}, "y": {"datum": -4.4}}},
  {"data": {"values": [{}]}, "mark": "rule", "encoding": {"x": {"datum": -1.4}, "y": {"datum": 0}, "y2": {"datum": 100}}}
 ]},
 {"title": {"text": "New offshore"}, "width": 351, "height": 78, "layer": [
  {"data": {"name": "hist"}, "transform": [{"filter": "datum.p === 'New offshore'"}], "mark": "rect", "encoding": {
   "x": {"field": "a", "type": "quantitative", "scale": {"domain": [-1.4, 10.4], "nice": false, "zero": false}, "axis": {"title": null, "values": [0, 2, 4, 6, 8, 10]}},
   "x2": {"field": "b"},
   "y": {"field": "n", "type": "quantitative", "scale": {"domain": [-1.92, 49.92], "nice": false, "zero": false}, "axis": null},
   "y2": {"datum": 0}}},
  {"data": {"name": "vline"}, "transform": [{"filter": "datum.p === 'New offshore'"}], "mark": {"type": "rule", "stroke": "#a8a8a8", "strokeDash": [3.5, 2.5], "strokeWidth": 1.4}, "encoding": {"x": {"field": "a", "type": "quantitative"}}},
  {"data": {"name": "yt"}, "transform": [{"filter": "datum.p === 'New offshore'"}], "mark": {"type": "rule", "xOffset": -10}, "encoding": {"x": {"datum": -1.4}, "x2": {"datum": -1.4}, "y": {"field": "t", "type": "quantitative"}}},
  {"data": {"name": "yl"}, "transform": [{"filter": "datum.p === 'New offshore'"}], "mark": {"type": "text", "xOffset": -18}, "encoding": {"x": {"datum": -1.4}, "y": {"field": "t", "type": "quantitative"}, "text": {"field": "t", "type": "quantitative"}}},
  {"data": {"values": [{}]}, "mark": "rule", "encoding": {"x": {"datum": 0}, "x2": {"datum": 10}, "y": {"datum": -1.92}}},
  {"data": {"values": [{}]}, "mark": "rule", "encoding": {"x": {"datum": -1.4}, "y": {"datum": 0}, "y2": {"datum": 40}}}
 ]},
 {"title": {"text": "New onshore"}, "width": 351, "height": 78, "layer": [
  {"data": {"name": "hist"}, "transform": [{"filter": "datum.p === 'New onshore'"}], "mark": "rect", "encoding": {
   "x": {"field": "a", "type": "quantitative", "scale": {"domain": [-1.4, 10.4], "nice": false, "zero": false}, "axis": {"title": null, "values": [0, 2, 4, 6, 8, 10]}},
   "x2": {"field": "b"},
   "y": {"field": "n", "type": "quantitative", "scale": {"domain": [-3.52, 91.52], "nice": false, "zero": false}, "axis": null},
   "y2": {"datum": 0}}},
  {"data": {"name": "vline"}, "transform": [{"filter": "datum.p === 'New onshore'"}], "mark": {"type": "rule", "stroke": "#a8a8a8", "strokeDash": [3.5, 2.5], "strokeWidth": 1.4}, "encoding": {"x": {"field": "a", "type": "quantitative"}}},
  {"data": {"name": "yt"}, "transform": [{"filter": "datum.p === 'New onshore'"}], "mark": {"type": "rule", "xOffset": -10}, "encoding": {"x": {"datum": -1.4}, "x2": {"datum": -1.4}, "y": {"field": "t", "type": "quantitative"}}},
  {"data": {"name": "yl"}, "transform": [{"filter": "datum.p === 'New onshore'"}], "mark": {"type": "text", "xOffset": -18}, "encoding": {"x": {"datum": -1.4}, "y": {"field": "t", "type": "quantitative"}, "text": {"field": "t", "type": "quantitative"}}},
  {"data": {"values": [{}]}, "mark": "rule", "encoding": {"x": {"datum": 0}, "x2": {"datum": 10}, "y": {"datum": -3.52}}},
  {"data": {"values": [{}]}, "mark": "rule", "encoding": {"x": {"datum": -1.4}, "y": {"datum": 0}, "y2": {"datum": 80}}}
 ]},
 {"title": {"text": "New PV", "offset": 14.2}, "width": 351, "height": 78, "layer": [
  {"data": {"name": "hist"}, "transform": [{"filter": "datum.p === 'New PV'"}], "mark": "rect", "encoding": {
   "x": {"field": "a", "type": "quantitative", "scale": {"domain": [-1.4, 10.4], "nice": false, "zero": false}, "axis": {"title": null, "values": [0, 2, 4, 6, 8, 10]}},
   "x2": {"field": "b"},
   "y": {"field": "n", "type": "quantitative", "scale": {"domain": [-2.04, 53.04], "nice": false, "zero": false}, "axis": null},
   "y2": {"datum": 0}}},
  {"data": {"name": "vline"}, "transform": [{"filter": "datum.p === 'New PV'"}], "mark": {"type": "rule", "stroke": "#a8a8a8", "strokeDash": [3.5, 2.5], "strokeWidth": 1.4}, "encoding": {"x": {"field": "a", "type": "quantitative"}}},
  {"data": {"name": "yt"}, "transform": [{"filter": "datum.p === 'New PV'"}], "mark": {"type": "rule", "xOffset": -10}, "encoding": {"x": {"datum": -1.4}, "x2": {"datum": -1.4}, "y": {"field": "t", "type": "quantitative"}}},
  {"data": {"name": "yl"}, "transform": [{"filter": "datum.p === 'New PV'"}], "mark": {"type": "text", "xOffset": -18}, "encoding": {"x": {"datum": -1.4}, "y": {"field": "t", "type": "quantitative"}, "text": {"field": "t", "type": "quantitative"}}},
  {"data": {"values": [{}]}, "mark": "rule", "encoding": {"x": {"datum": 0}, "x2": {"datum": 10}, "y": {"datum": -2.04}}},
  {"data": {"values": [{}]}, "mark": "rule", "encoding": {"x": {"datum": -1.4}, "y": {"datum": 0}, "y2": {"datum": 50}}}
 ]},
 {"title": {"text": "DSM 300"}, "width": 351, "height": 78, "layer": [
  {"data": {"name": "hist"}, "transform": [{"filter": "datum.p === 'DSM 300'"}], "mark": "rect", "encoding": {
   "x": {"field": "a", "type": "quantitative", "scale": {"domain": [-1.4, 10.4], "nice": false, "zero": false}, "axis": {"title": null, "values": [0, 2, 4, 6, 8, 10]}},
   "x2": {"field": "b"},
   "y": {"field": "n", "type": "quantitative", "scale": {"domain": [-4.56, 118.56], "nice": false, "zero": false}, "axis": null},
   "y2": {"datum": 0}}},
  {"data": {"name": "vline"}, "transform": [{"filter": "datum.p === 'DSM 300'"}], "mark": {"type": "rule", "stroke": "#a8a8a8", "strokeDash": [3.5, 2.5], "strokeWidth": 1.4}, "encoding": {"x": {"field": "a", "type": "quantitative"}}},
  {"data": {"name": "yt"}, "transform": [{"filter": "datum.p === 'DSM 300'"}], "mark": {"type": "rule", "xOffset": -10}, "encoding": {"x": {"datum": -1.4}, "x2": {"datum": -1.4}, "y": {"field": "t", "type": "quantitative"}}},
  {"data": {"name": "yl"}, "transform": [{"filter": "datum.p === 'DSM 300'"}], "mark": {"type": "text", "xOffset": -18}, "encoding": {"x": {"datum": -1.4}, "y": {"field": "t", "type": "quantitative"}, "text": {"field": "t", "type": "quantitative"}}},
  {"data": {"values": [{}]}, "mark": "rule", "encoding": {"x": {"datum": 0}, "x2": {"datum": 10}, "y": {"datum": -4.56}}},
  {"data": {"values": [{}]}, "mark": "rule", "encoding": {"x": {"datum": -1.4}, "y": {"datum": 0}, "y2": {"datum": 100}}}
 ]},
 {"title": {"text": "DSM 500", "offset": 8.1}, "width": 351, "height": 78, "layer": [
  {"data": {"name": "hist"}, "transform": [{"filter": "datum.p === 'DSM 500'"}], "mark": "rect", "encoding": {
   "x": {"field": "a", "type": "quantitative", "scale": {"domain": [-1.4, 10.4], "nice": false, "zero": false}, "axis": {"title": null, "values": [0, 2, 4, 6, 8, 10]}},
   "x2": {"field": "b"},
   "y": {"field": "n", "type": "quantitative", "scale": {"domain": [-27.6, 717.6], "nice": false, "zero": false}, "axis": null},
   "y2": {"datum": 0}}},
  {"data": {"name": "vline"}, "transform": [{"filter": "datum.p === 'DSM 500'"}], "mark": {"type": "rule", "stroke": "#a8a8a8", "strokeDash": [3.5, 2.5], "strokeWidth": 1.4}, "encoding": {"x": {"field": "a", "type": "quantitative"}}},
  {"data": {"name": "yt"}, "transform": [{"filter": "datum.p === 'DSM 500'"}], "mark": {"type": "rule", "xOffset": -10}, "encoding": {"x": {"datum": -1.4}, "x2": {"datum": -1.4}, "y": {"field": "t", "type": "quantitative"}}},
  {"data": {"name": "yl"}, "transform": [{"filter": "datum.p === 'DSM 500'"}], "mark": {"type": "text", "xOffset": -18}, "encoding": {"x": {"datum": -1.4}, "y": {"field": "t", "type": "quantitative"}, "text": {"field": "t", "type": "quantitative"}}},
  {"data": {"values": [{}]}, "mark": "rule", "encoding": {"x": {"datum": 0}, "x2": {"datum": 10}, "y": {"datum": -27.6}}},
  {"data": {"values": [{}]}, "mark": "rule", "encoding": {"x": {"datum": -1.4}, "y": {"datum": 0}, "y2": {"datum": 700}}}
 ]},
 {"title": {"text": "DSM 1000"}, "width": 351, "height": 78, "layer": [
  {"data": {"name": "hist"}, "transform": [{"filter": "datum.p === 'DSM 1000'"}], "mark": "rect", "encoding": {
   "x": {"field": "a", "type": "quantitative", "scale": {"domain": [-1.4, 10.4], "nice": false, "zero": false}, "axis": {"title": null, "values": [0, 2, 4, 6, 8, 10]}},
   "x2": {"field": "b"},
   "y": {"field": "n", "type": "quantitative", "scale": {"domain": [-43.2, 1123.2], "nice": false, "zero": false}, "axis": null},
   "y2": {"datum": 0}}},
  {"data": {"name": "vline"}, "transform": [{"filter": "datum.p === 'DSM 1000'"}], "mark": {"type": "rule", "stroke": "#a8a8a8", "strokeDash": [3.5, 2.5], "strokeWidth": 1.4}, "encoding": {"x": {"field": "a", "type": "quantitative"}}},
  {"data": {"name": "yt"}, "transform": [{"filter": "datum.p === 'DSM 1000'"}], "mark": {"type": "rule", "xOffset": -10}, "encoding": {"x": {"datum": -1.4}, "x2": {"datum": -1.4}, "y": {"field": "t", "type": "quantitative"}}},
  {"data": {"name": "yl"}, "transform": [{"filter": "datum.p === 'DSM 1000'"}], "mark": {"type": "text", "xOffset": -18}, "encoding": {"x": {"datum": -1.4}, "y": {"field": "t", "type": "quantitative"}, "text": {"field": "t", "type": "quantitative"}}},
  {"data": {"values": [{}]}, "mark": "rule", "encoding": {"x": {"datum": 0}, "x2": {"datum": 10}, "y": {"datum": -43.2}}},
  {"data": {"values": [{}]}, "mark": "rule", "encoding": {"x": {"datum": -1.4}, "y": {"datum": 0}, "y2": {"datum": 1000}}}
 ]},
 {"title": {"text": "DSM 2000"}, "width": 351, "height": 78, "layer": [
  {"data": {"name": "hist"}, "transform": [{"filter": "datum.p === 'DSM 2000'"}], "mark": "rect", "encoding": {
   "x": {"field": "a", "type": "quantitative", "scale": {"domain": [-1.4, 10.4], "nice": false, "zero": false}, "axis": {"title": null, "values": [0, 2, 4, 6, 8, 10]}},
   "x2": {"field": "b"},
   "y": {"field": "n", "type": "quantitative", "scale": {"domain": [-57.6, 1497.6], "nice": false, "zero": false}, "axis": null},
   "y2": {"datum": 0}}},
  {"data": {"name": "vline"}, "transform": [{"filter": "datum.p === 'DSM 2000'"}], "mark": {"type": "rule", "stroke": "#a8a8a8", "strokeDash": [3.5, 2.5], "strokeWidth": 1.4}, "encoding": {"x": {"field": "a", "type": "quantitative"}}},
  {"data": {"name": "yt"}, "transform": [{"filter": "datum.p === 'DSM 2000'"}], "mark": {"type": "rule", "xOffset": -10}, "encoding": {"x": {"datum": -1.4}, "x2": {"datum": -1.4}, "y": {"field": "t", "type": "quantitative"}}},
  {"data": {"name": "yl"}, "transform": [{"filter": "datum.p === 'DSM 2000'"}], "mark": {"type": "text", "xOffset": -18}, "encoding": {"x": {"datum": -1.4}, "y": {"field": "t", "type": "quantitative"}, "text": {"field": "t", "type": "quantitative"}}},
  {"data": {"values": [{}]}, "mark": "rule", "encoding": {"x": {"datum": 0}, "x2": {"datum": 10}, "y": {"datum": -57.6}}},
  {"data": {"values": [{}]}, "mark": "rule", "encoding": {"x": {"datum": -1.4}, "y": {"datum": 0}, "y2": {"datum": 1400}}}
 ]},
 {"title": {"text": "PSP"}, "width": 351, "height": 78, "layer": [
  {"data": {"name": "hist"}, "transform": [{"filter": "datum.p === 'PSP'"}], "mark": "rect", "encoding": {
   "x": {"field": "a", "type": "quantitative", "scale": {"domain": [-1.4, 10.4], "nice": false, "zero": false}, "axis": {"title": null, "values": [0, 2, 4, 6, 8, 10]}},
   "x2": {"field": "b"},
   "y": {"field": "n", "type": "quantitative", "scale": {"domain": [-1.88, 48.88], "nice": false, "zero": false}, "axis": null},
   "y2": {"datum": 0}}},
  {"data": {"name": "vline"}, "transform": [{"filter": "datum.p === 'PSP'"}], "mark": {"type": "rule", "stroke": "#a8a8a8", "strokeDash": [3.5, 2.5], "strokeWidth": 1.4}, "encoding": {"x": {"field": "a", "type": "quantitative"}}},
  {"data": {"name": "yt"}, "transform": [{"filter": "datum.p === 'PSP'"}], "mark": {"type": "rule", "xOffset": -10}, "encoding": {"x": {"datum": -1.4}, "x2": {"datum": -1.4}, "y": {"field": "t", "type": "quantitative"}}},
  {"data": {"name": "yl"}, "transform": [{"filter": "datum.p === 'PSP'"}], "mark": {"type": "text", "xOffset": -18}, "encoding": {"x": {"datum": -1.4}, "y": {"field": "t", "type": "quantitative"}, "text": {"field": "t", "type": "quantitative"}}},
  {"data": {"values": [{}]}, "mark": "rule", "encoding": {"x": {"datum": 0}, "x2": {"datum": 10}, "y": {"datum": -1.88}}},
  {"data": {"values": [{}]}, "mark": "rule", "encoding": {"x": {"datum": -1.4}, "y": {"datum": 0}, "y2": {"datum": 40}}}
 ]},
 {"title": {"text": "Batteries 2h"}, "width": 351, "height": 78, "layer": [
  {"data": {"name": "hist"}, "transform": [{"filter": "datum.p === 'Batteries 2h'"}], "mark": "rect", "encoding": {
   "x": {"field": "a", "type": "quantitative", "scale": {"domain": [-1.4, 10.4], "nice": false, "zero": false}, "axis": {"title": null, "values": [0, 2, 4, 6, 8, 10]}},
   "x2": {"field": "b"},
   "y": {"field": "n", "type": "quantitative", "scale": {"domain": [-1.28, 33.28], "nice": false, "zero": false}, "axis": null},
   "y2": {"datum": 0}}},
  {"data": {"name": "vline"}, "transform": [{"filter": "datum.p === 'Batteries 2h'"}], "mark": {"type": "rule", "stroke": "#a8a8a8", "strokeDash": [3.5, 2.5], "strokeWidth": 1.4}, "encoding": {"x": {"field": "a", "type": "quantitative"}}},
  {"data": {"name": "yt"}, "transform": [{"filter": "datum.p === 'Batteries 2h'"}], "mark": {"type": "rule", "xOffset": -10}, "encoding": {"x": {"datum": -1.4}, "x2": {"datum": -1.4}, "y": {"field": "t", "type": "quantitative"}}},
  {"data": {"name": "yl"}, "transform": [{"filter": "datum.p === 'Batteries 2h'"}], "mark": {"type": "text", "xOffset": -18}, "encoding": {"x": {"datum": -1.4}, "y": {"field": "t", "type": "quantitative"}, "text": {"field": "t", "type": "quantitative"}}},
  {"data": {"values": [{}]}, "mark": "rule", "encoding": {"x": {"datum": 0}, "x2": {"datum": 10}, "y": {"datum": -1.28}}},
  {"data": {"values": [{}]}, "mark": "rule", "encoding": {"x": {"datum": -1.4}, "y": {"datum": 0}, "y2": {"datum": 30}}}
 ]},
 {"title": {"text": "Batteries 4h"}, "width": 351, "height": 78, "layer": [
  {"data": {"name": "hist"}, "transform": [{"filter": "datum.p === 'Batteries 4h'"}], "mark": "rect", "encoding": {
   "x": {"field": "a", "type": "quantitative", "scale": {"domain": [-1.4, 10.4], "nice": false, "zero": false}, "axis": {"title": null, "values": [0, 2, 4, 6, 8, 10]}},
   "x2": {"field": "b"},
   "y": {"field": "n", "type": "quantitative", "scale": {"domain": [-1.32, 34.32], "nice": false, "zero": false}, "axis": null},
   "y2": {"datum": 0}}},
  {"data": {"name": "vline"}, "transform": [{"filter": "datum.p === 'Batteries 4h'"}], "mark": {"type": "rule", "stroke": "#a8a8a8", "strokeDash": [3.5, 2.5], "strokeWidth": 1.4}, "encoding": {"x": {"field": "a", "type": "quantitative"}}},
  {"data": {"name": "yt"}, "transform": [{"filter": "datum.p === 'Batteries 4h'"}], "mark": {"type": "rule", "xOffset": -10}, "encoding": {"x": {"datum": -1.4}, "x2": {"datum": -1.4}, "y": {"field": "t", "type": "quantitative"}}},
  {"data": {"name": "yl"}, "transform": [{"filter": "datum.p === 'Batteries 4h'"}], "mark": {"type": "text", "xOffset": -18}, "encoding": {"x": {"datum": -1.4}, "y": {"field": "t", "type": "quantitative"}, "text": {"field": "t", "type": "quantitative"}}},
  {"data": {"values": [{}]}, "mark": "rule", "encoding": {"x": {"datum": 0}, "x2": {"datum": 10}, "y": {"datum": -1.32}}},
  {"data": {"values": [{}]}, "mark": "rule", "encoding": {"x": {"datum": -1.4}, "y": {"datum": 0}, "y2": {"datum": 30}}}
 ]}
]
}
